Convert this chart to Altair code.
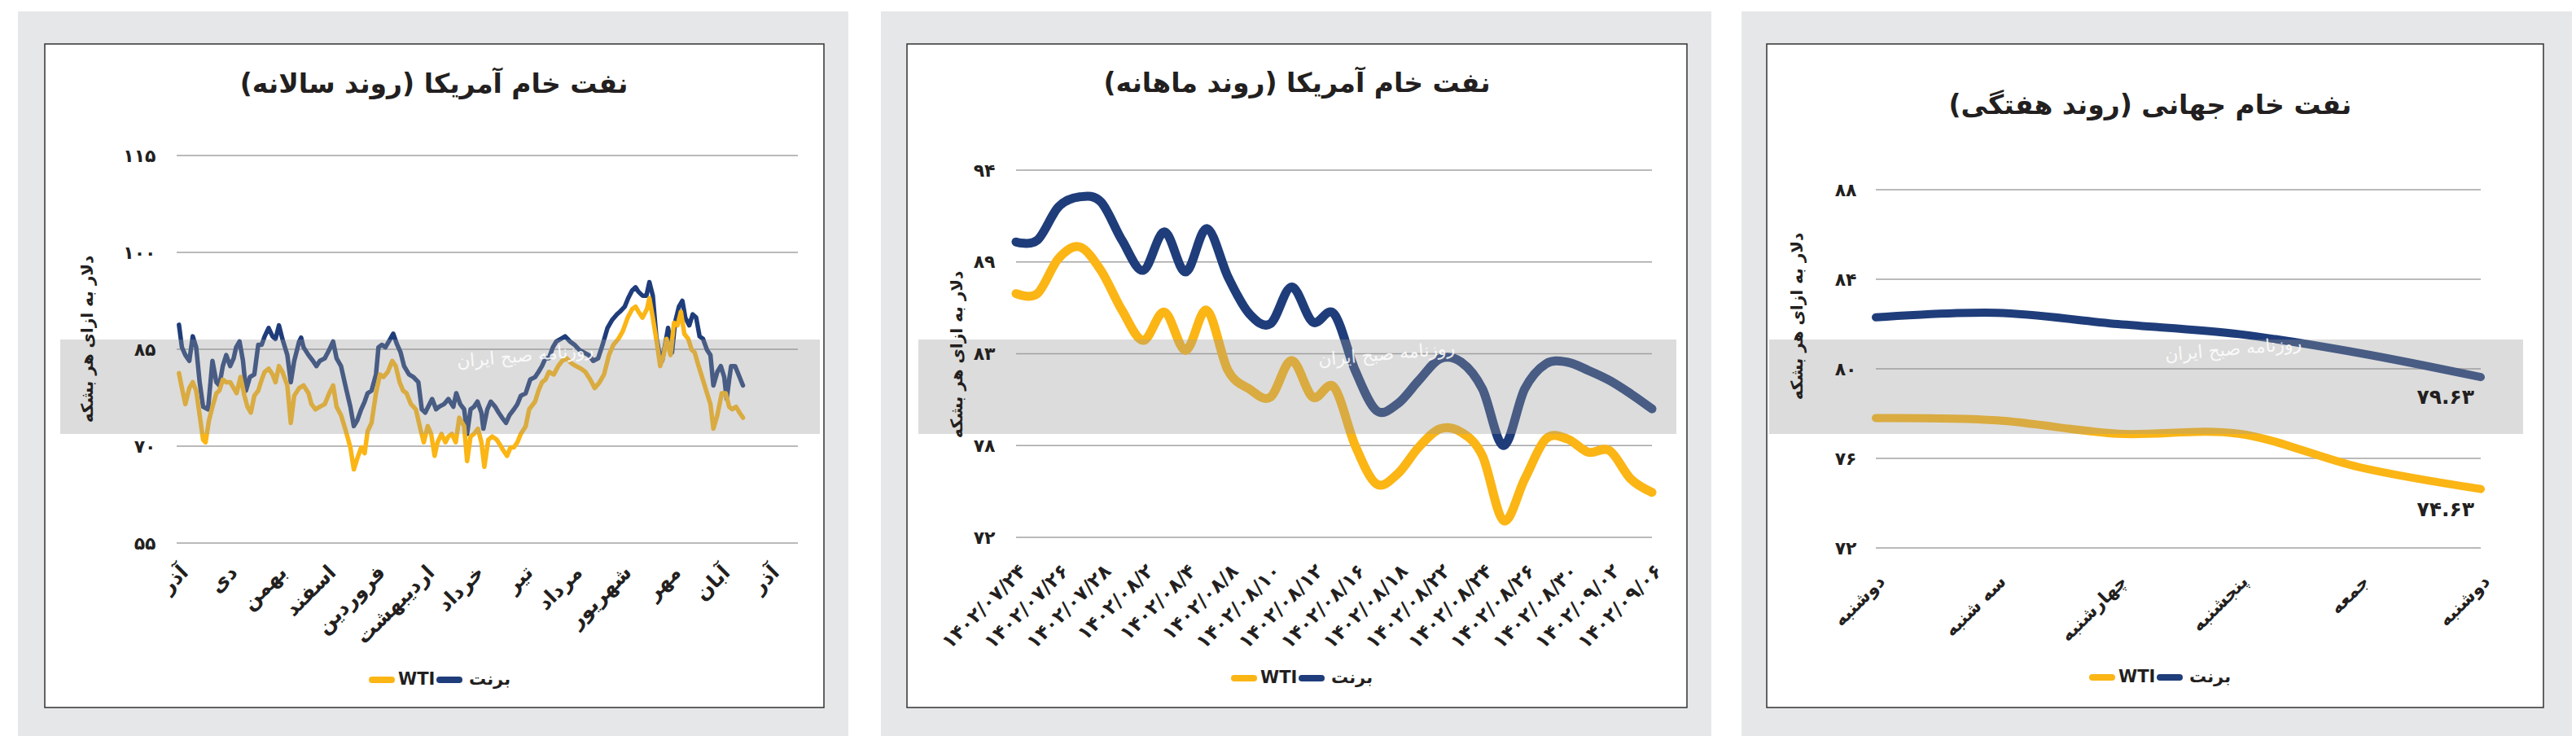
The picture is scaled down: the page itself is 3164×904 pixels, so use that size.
import altair as alt
import pandas as pd

FONT = "DejaVu Sans"
BLUE = "#1f3d7a"
GOLD = "#fbb515"
PANEL_BG = "#e6e7e8"
TEXT = "#231f20"
GRID = "#a3a3a3"

SERIES = ["برنت", "WTI"]
Y_TITLE = "دلار به ازای هر بشکه"
WATERMARK_SMALL = "روزنامه صبح ایران"

# ---------------- Panel 1 : yearly ----------------
TITLE_1 = "نفت خام آمریکا (روند سالانه)"
MONTHS_1 = ["آذر", "دی", "بهمن", "اسفند", "فروردین", "اردیبهشت", "خرداد",
            "تیر", "مرداد", "شهریور", "مهر", "آبان", "آذر"]
Y1_TICKS = [55, 70, 85, 100, 115]
Y1_LABELS = ["۵۵", "۷۰", "۸۵", "۱۰۰", "۱۱۵"]
BRENT_1_X = [0.03, 0.09, 0.16, 0.24, 0.31, 0.38, 0.45, 0.52, 0.62, 0.71,
             0.79, 0.85, 0.92, 0.99, 1.07, 1.14, 1.19, 1.26, 1.33, 1.39,
             1.47, 1.56, 1.64, 1.71, 1.77, 1.85, 1.93, 1.99, 2.06, 2.13,
             2.23, 2.30, 2.37, 2.47, 2.51, 2.56, 2.66, 2.75, 2.82, 2.89,
             2.99, 3.08, 3.16, 3.23, 3.32, 3.42, 3.51, 3.58, 3.65, 3.73,
             3.80, 3.86, 3.94, 4.03, 4.08, 4.15, 4.22, 4.32, 4.38, 4.46,
             4.53, 4.60, 4.70, 4.79, 4.89, 4.96, 5.03, 5.09, 5.17, 5.25,
             5.31, 5.41, 5.50, 5.60, 5.66, 5.74, 5.82, 5.88, 5.95, 6.02,
             6.09, 6.17, 6.21, 6.29, 6.36, 6.45, 6.52, 6.59, 6.67, 6.74,
             6.83, 6.90, 6.97, 7.07, 7.16, 7.26, 7.33, 7.40, 7.47, 7.54,
             7.62, 7.69, 7.78, 7.87, 7.97, 8.06, 8.16, 8.25, 8.35, 8.44,
             8.54, 8.63, 8.73, 8.82, 8.92, 8.98, 9.08, 9.15, 9.23, 9.30,
             9.36, 9.44, 9.52, 9.58, 9.65, 9.72, 9.77, 9.84, 9.90, 9.96,
             10.04, 10.10, 10.18, 10.25, 10.31, 10.39, 10.46, 10.53, 10.60, 10.67,
             10.75, 10.82, 10.88, 10.96, 11.03, 11.10, 11.15, 11.20, 11.24, 11.32,
             11.39, 11.48]
BRENT_1_Y = [88.8, 85.3, 84.1, 83.2, 87.0, 85.3, 79.9, 76.1, 75.7, 83.2,
             79.9, 79.4, 82.4, 84.1, 82.4, 83.6, 85.3, 86.2, 83.2, 78.6,
             80.7, 81.1, 85.7, 85.7, 87.0, 88.3, 87.0, 86.6, 88.7, 86.6,
             84.1, 79.9, 83.2, 86.2, 86.8, 85.3, 84.1, 83.2, 82.4, 83.2,
             83.6, 84.9, 86.2, 83.6, 82.4, 79.0, 76.1, 73.1, 74.0, 75.7,
             76.9, 78.2, 78.6, 81.1, 85.3, 85.7, 85.3, 86.6, 87.4, 85.7,
             84.5, 82.4, 81.1, 80.7, 79.9, 75.7, 75.2, 76.1, 77.3, 75.7,
             76.1, 76.5, 77.3, 76.1, 78.2, 76.5, 75.7, 71.9, 75.7, 76.1,
             76.9, 75.2, 72.7, 75.7, 76.9, 76.1, 75.2, 74.4, 73.6, 74.8,
             75.7, 76.5, 77.8, 78.2, 80.3, 80.7, 81.5, 82.4, 83.6, 83.6,
             85.3, 86.2, 86.6, 87.0, 86.2, 85.7, 84.9, 84.5, 84.1, 83.2,
             83.6, 85.7, 88.3, 89.5, 90.4, 90.8, 91.6, 92.9, 94.1, 94.6,
             93.9, 93.3, 93.3, 95.4, 93.3, 87.0, 84.9, 83.2, 85.7, 88.3,
             84.5, 89.1, 91.6, 92.5, 89.9, 88.7, 90.4, 89.9, 87.0, 86.6,
             84.9, 84.1, 79.4, 81.5, 82.4, 80.7, 77.3, 80.3, 82.4, 82.4,
             81.1, 79.4]
WTI_1_X = [0.03, 0.09, 0.16, 0.24, 0.31, 0.38, 0.45, 0.52, 0.57, 0.64,
           0.71, 0.79, 0.85, 0.92, 0.99, 1.07, 1.14, 1.20, 1.28, 1.36,
           1.42, 1.49, 1.56, 1.64, 1.71, 1.77, 1.85, 1.93, 1.99, 2.06,
           2.13, 2.23, 2.30, 2.37, 2.47, 2.56, 2.66, 2.72, 2.80, 2.89,
           2.99, 3.08, 3.16, 3.23, 3.32, 3.42, 3.51, 3.58, 3.65, 3.73,
           3.80, 3.86, 3.94, 4.03, 4.11, 4.18, 4.27, 4.36, 4.43, 4.51,
           4.58, 4.65, 4.74, 4.84, 4.93, 5.00, 5.08, 5.15, 5.22, 5.28,
           5.36, 5.44, 5.50, 5.57, 5.65, 5.72, 5.82, 5.88, 5.95, 6.02,
           6.10, 6.17, 6.23, 6.31, 6.39, 6.48, 6.55, 6.61, 6.69, 6.76,
           6.83, 6.90, 6.97, 7.07, 7.14, 7.26, 7.33, 7.40, 7.47, 7.54,
           7.64, 7.73, 7.81, 7.90, 8.00, 8.09, 8.19, 8.28, 8.38, 8.47,
           8.57, 8.66, 8.76, 8.85, 8.95, 9.04, 9.14, 9.23, 9.30, 9.36,
           9.44, 9.53, 9.58, 9.65, 9.72, 9.80, 9.87, 9.93, 10.01, 10.08,
           10.15, 10.22, 10.29, 10.37, 10.44, 10.50, 10.58, 10.65, 10.75, 10.82,
           10.88, 10.96, 11.05, 11.13, 11.20, 11.26, 11.34, 11.41, 11.48]
WTI_1_Y = [81.3, 79.0, 76.5, 79.0, 79.9, 78.6, 74.8, 71.0, 70.6, 74.0,
           76.1, 78.2, 78.6, 80.3, 79.9, 79.9, 79.0, 78.2, 80.7, 77.8,
           76.1, 75.2, 77.8, 78.6, 80.3, 81.5, 82.0, 81.1, 79.9, 82.4,
           81.5, 79.4, 73.6, 77.8, 79.0, 79.4, 78.2, 76.5, 75.7, 76.1,
           76.5, 78.2, 79.4, 76.1, 74.8, 72.3, 69.8, 66.4, 68.1, 69.8,
           68.9, 72.3, 73.6, 78.2, 81.1, 80.7, 81.5, 83.2, 82.4, 79.9,
           78.6, 78.2, 76.5, 75.7, 72.7, 70.6, 73.1, 71.9, 68.5, 70.6,
           71.9, 70.6, 71.5, 71.9, 70.6, 74.4, 73.1, 67.7, 71.5, 71.9,
           72.7, 70.6, 66.8, 71.0, 71.5, 71.0, 70.2, 69.4, 68.5, 69.8,
           69.8, 70.6, 71.9, 73.1, 75.7, 76.9, 78.6, 79.9, 80.3, 81.5,
           81.1, 82.4, 83.2, 83.6, 82.8, 82.4, 82.0, 81.5, 80.3, 79.0,
           79.9, 81.1, 84.1, 85.7, 86.6, 87.8, 89.9, 91.2, 91.6, 90.8,
           89.9, 91.2, 92.9, 89.9, 86.6, 82.4, 84.1, 86.6, 84.1, 89.1,
           88.7, 90.8, 87.4, 86.6, 84.9, 84.5, 82.4, 80.7, 78.2, 76.5,
           72.7, 74.8, 78.2, 78.2, 76.1, 75.7, 76.1, 75.2, 74.4]

# ---------------- Panel 2 : monthly ----------------
TITLE_2 = "نفت خام آمریکا (روند ماهانه)"
DATES_2 = ["۱۴۰۲/۰۷/۲۴", "۱۴۰۲/۰۷/۲۶", "۱۴۰۲/۰۷/۲۸", "۱۴۰۲/۰۸/۲",
           "۱۴۰۲/۰۸/۴", "۱۴۰۲/۰۸/۸", "۱۴۰۲/۰۸/۱۰", "۱۴۰۲/۰۸/۱۲",
           "۱۴۰۲/۰۸/۱۶", "۱۴۰۲/۰۸/۱۸", "۱۴۰۲/۰۸/۲۲", "۱۴۰۲/۰۸/۲۴",
           "۱۴۰۲/۰۸/۲۶", "۱۴۰۲/۰۸/۳۰", "۱۴۰۲/۰۹/۰۲", "۱۴۰۲/۰۹/۰۶"]
Y2_TICKS = [72, 77.5, 83, 88.5, 94]
Y2_LABELS = ["۷۲", "۷۸", "۸۳", "۸۹", "۹۴"]
BRENT_2 = [89.7, 89.8, 91.8, 92.4, 92.1, 89.8, 88.0, 90.3, 87.9, 90.5,
           87.6, 85.4, 84.8, 87.0, 84.9, 85.4, 82.0, 79.6, 80.0, 81.4,
           82.7, 82.5, 80.9, 77.5, 80.9, 82.4, 82.5, 82.0, 81.4, 80.6, 79.7]
WTI_2 = [86.6, 86.6, 88.7, 89.4, 88.0, 85.6, 83.8, 85.5, 83.2, 85.6,
         82.0, 80.9, 80.4, 82.6, 80.4, 81.0, 77.5, 75.2, 75.8, 77.4,
         78.5, 78.3, 76.9, 73.0, 75.5, 77.9, 77.9, 77.1, 77.2, 75.5, 74.7]

# ---------------- Panel 3 : weekly ----------------
TITLE_3 = "نفت خام جهانی (روند هفتگی)"
DAYS_3 = ["دوشنبه", "سه شنبه", "چهارشنبه", "پنجشنبه", "جمعه", "دوشنبه"]
Y3_TICKS = [72, 76, 80, 84, 88]
Y3_LABELS = ["۷۲", "۷۶", "۸۰", "۸۴", "۸۸"]
BRENT_3 = [82.3, 82.5, 82.0, 81.55, 80.7, 79.63]
WTI_3 = [77.8, 77.7, 77.1, 77.1, 75.6, 74.63]
END_LABELS_3 = ["۷۹.۶۳", "۷۴.۶۳"]


def label_expr(values, labels):
    expr = "''"
    for v, l in reversed(list(zip(values, labels))):
        expr = f"datum.value == {v} ? '{l}' : {expr}"
    return expr


ONE = pd.DataFrame({"k": [0]})
VIEW_H = 482  # common view height so every panel's view starts at the same y


def box(x0, x1, y0, y1, **kw):
    return alt.Chart(ONE).mark_rect(**kw).encode(
        x=alt.value(x0), x2=alt.value(x1), y=alt.value(y0), y2=alt.value(y1))


def text_at(x, y, txt, size, align="center", weight="bold", color=TEXT, **kw):
    return alt.Chart(ONE).mark_text(
        font=FONT, fontSize=size, fontWeight=weight, color=color,
        align=align, baseline="middle", **kw).encode(
        x=alt.value(x), y=alt.value(y), text=alt.value(txt))


def panel(c):
    w, h = c["w"], VIEW_H
    xs = alt.Scale(domain=c["xdom"], nice=False, zero=False)
    ys = alt.Scale(domain=c["ydom"], range=c["yrange"], nice=False, zero=False)
    xaxis = alt.Axis(values=c["xvals"], labelExpr=label_expr(c["xvals"], c["xlabels"]),
                     labelAngle=315, labelAlign="right", labelBaseline="top",
                     labelPadding=c["xpad"], tickSize=0, ticks=False, domain=False,
                     grid=False, title=None, labelFont=FONT, labelFontSize=c["xfs"],
                     labelFontWeight="bold", labelColor=TEXT, labelOverlap=False,
                     zindex=1)
    yaxis = alt.Axis(values=c["yvals"], labelExpr=label_expr(c["yvals"], c["ylabels"]),
                     labelPadding=c["ypad"], tickSize=0, ticks=False, domain=False,
                     grid=False, labelFont=FONT, labelFontSize=22, labelFontWeight="bold",
                     labelColor=TEXT, title=Y_TITLE, titleFont=FONT, titleFontSize=20,
                     titleFontWeight="bold", titleColor=TEXT, titleAngle=270,
                     titleAlign="center", titleBaseline="middle",
                     titleX=c["ytx"], titleY=c["yty"], zindex=1)
    gx0, gx1 = c["grey"]
    wx0, wx1 = c["white"]
    bx0, bx1 = c["band"]
    layers = [
        box(gx0, gx1, -177, 713, fill=PANEL_BG),
        box(wx0, wx1, -137, 678, fill="white", stroke="#333333", strokeWidth=1.5),
        alt.Chart(pd.DataFrame({"v": c["yvals"]})).mark_rule(color=GRID, strokeWidth=1.5).encode(
            y=alt.Y("v:Q", scale=ys, axis=yaxis), x=alt.value(0), x2=alt.value(w)),
    ]
    for name, color in [(SERIES[0], BLUE), (SERIES[1], GOLD)]:
        df = c["data"][name]
        layers.append(alt.Chart(df).mark_line(
            color=color, strokeWidth=c["sw"], interpolate=c["interp"],
            strokeJoin="round", strokeCap="round").encode(
            x=alt.X("x:Q", scale=xs, axis=xaxis),
            y=alt.Y("v:Q", scale=ys, axis=yaxis)))
    # watermark band and its small caption
    layers.append(box(bx0, bx1, 226, 342, fill="#999999", opacity=0.34))
    sx, sy = c["wms"]
    layers.append(text_at(sx, sy, WATERMARK_SMALL, 22, weight="normal", color="white",
                          angle=355, opacity=0.85))
    # title
    layers.append(text_at(c["tx"], c["ty"], c["title"], 33))
    # legend (drawn manually, RTL order)
    lx, ly = c["leg"]
    layers.append(alt.Chart(ONE).mark_rule(color=GOLD, strokeWidth=8, strokeCap="round").encode(
        x=alt.value(lx + 4), x2=alt.value(lx + 28), y=alt.value(ly)))
    layers.append(text_at(lx + 36, ly, SERIES[1], 21, align="left"))
    layers.append(alt.Chart(ONE).mark_rule(color=BLUE, strokeWidth=8, strokeCap="round").encode(
        x=alt.value(lx + 87), x2=alt.value(lx + 111), y=alt.value(ly)))
    layers.append(text_at(lx + 123, ly, SERIES[0], 21, align="left"))
    if "end" in c:
        layers.append(alt.Chart(c["end"]).mark_text(
            font=FONT, fontSize=25, fontWeight="bold", color=TEXT, align="right",
            baseline="middle", dx=-8, dy=25).encode(
            x=alt.X("x:Q", scale=xs, axis=xaxis), y=alt.Y("v:Q", scale=ys, axis=yaxis),
            text="t:N"))
    return alt.layer(*layers).properties(width=w, height=h)


p1 = panel(dict(
    w=763, xdom=[-0.0165, 12.595], ydom=[55, 115], yrange=[476, 0],
    xvals=list(range(13)), xlabels=MONTHS_1, xpad=17, xfs=25,
    yvals=Y1_TICKS, ylabels=Y1_LABELS, ypad=26, ytx=-110, yty=225,
    grey=(-195, 825), white=(-162, 795), band=(-143, 790), wms=(428, 246),
    title=TITLE_1, tx=316, ty=-87, leg=(236, 644), sw=5.5, interp="linear",
    data={SERIES[0]: pd.DataFrame({"x": BRENT_1_X, "v": BRENT_1_Y}),
          SERIES[1]: pd.DataFrame({"x": WTI_1_X, "v": WTI_1_Y})},
))

p2 = panel(dict(
    w=781, xdom=[0, 30], ydom=[72, 94], yrange=[469, 18],
    xvals=list(range(0, 31, 2)), xlabels=DATES_2, xpad=16, xfs=24,
    yvals=Y2_TICKS, ylabels=Y2_LABELS, ypad=26, ytx=-73, yty=244,
    grey=(-166, 854), white=(-134, 824), band=(-120, 811), wms=(455, 244),
    title=TITLE_2, tx=345, ty=-88, leg=(264, 642), sw=11, interp="cardinal",
    data={SERIES[0]: pd.DataFrame({"x": list(range(31)), "v": BRENT_2}),
          SERIES[1]: pd.DataFrame({"x": list(range(31)), "v": WTI_2})},
))

p3 = panel(dict(
    w=743, xdom=[0, 5], ydom=[72, 88], yrange=[482, 42],
    xvals=list(range(6)), xlabels=DAYS_3, xpad=30, xfs=22,
    yvals=Y3_TICKS, ylabels=Y3_LABELS, ypad=24, ytx=-97, yty=197,
    grey=(-165, 855), white=(-134, 820), band=(-131, 795), wms=(439, 238),
    title=TITLE_3, tx=337, ty=-61, leg=(262, 641), sw=10, interp="cardinal",
    data={SERIES[0]: pd.DataFrame({"x": list(range(6)), "v": BRENT_3}),
          SERIES[1]: pd.DataFrame({"x": list(range(6)), "v": WTI_3})},
    end=pd.DataFrame({"x": [5, 5], "v": [BRENT_3[-1], WTI_3[-1]], "t": END_LABELS_3}),
))

chart = alt.hconcat(alt.hconcat(p1, p2, spacing=40), p3, spacing=37).properties(
    padding={"left": 22, "top": 14, "right": 5, "bottom": 0},
    background="white",
).configure_view(stroke=None)

chart.save("out.html", embed_options={"renderer": "svg", "actions": False})
